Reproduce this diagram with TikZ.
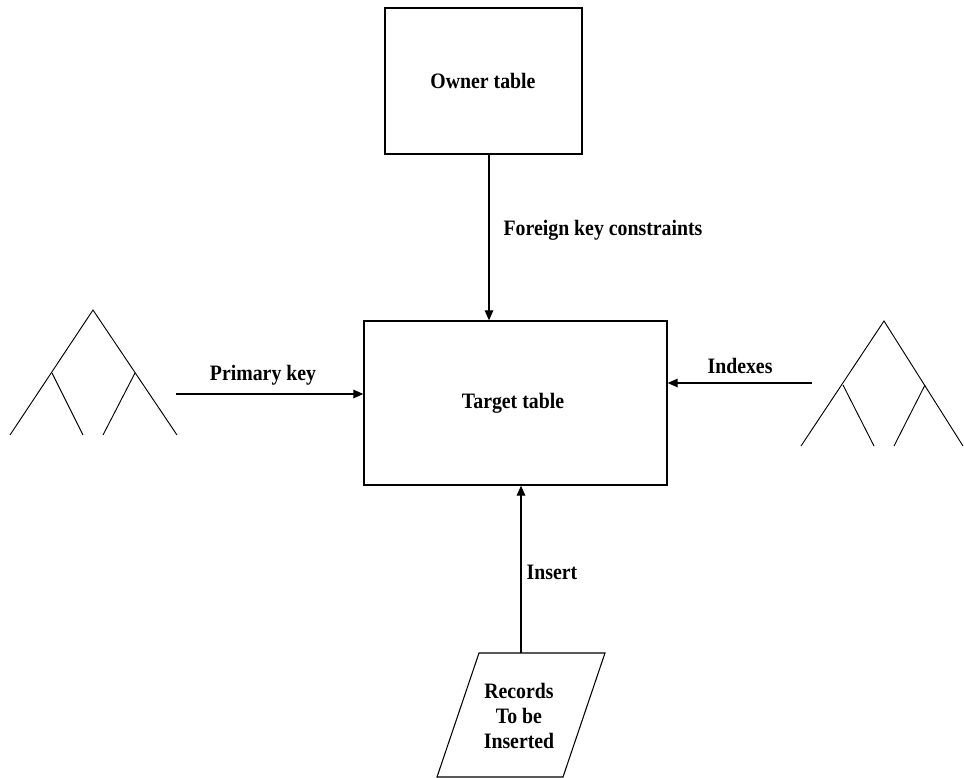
\documentclass[tikz,border=0pt]{standalone}
\usepackage{fontspec}
\setmainfont{Liberation Serif}[FakeStretch=0.9]
\usetikzlibrary{arrows.meta}
\begin{document}
\begin{tikzpicture}[x=0.75pt,y=-0.75pt,
  lbl/.style={font=\fontsize{16.5}{19}\selectfont\bfseries, inner sep=0pt},
  tablebox/.style={draw, line width=1.1pt, inner sep=0pt},
  link/.style={line width=0.9pt, -{Triangle[length=7.5pt,width=6.5pt]}},
  tree/.style={line width=0.7pt}]
\useasboundingbox (0,0) rectangle (964,778);

% tables
\node[tablebox, minimum width=147.75pt, minimum height=109.5pt] (owner) at (483.5,81) {};
\node[lbl] at (483,81) {Owner table};
\node[tablebox, minimum width=227.25pt, minimum height=123pt] (target) at (515.5,403) {};
\node[lbl] at (513,403) {Target table};

% records to be inserted
\draw[line width=0.8pt] (479,653) -- (605,653) -- (563,777) -- (437,777) -- cycle;
\coordinate (rectop) at (521,653);
\node[lbl, align=center, font=\fontsize{16.5}{19}\selectfont\bfseries] (records) at (519,716) {Records\\To be\\Inserted};

% left index tree
\draw[tree] (10,435) -- (93,310) -- (177,435);
\draw[tree] (52,373) -- (83,435);
\draw[tree] (135,373) -- (103,435);
\coordinate (ltree) at (176,394);

% right index tree
\draw[tree] (801,446) -- (884,321) -- (963,446);
\draw[tree] (843,385) -- (874,446);
\draw[tree] (925,385) -- (894,446);
\coordinate (rtree) at (812,383);

% connectors
\draw[link] (owner.south -| 489,0) -- (489,0 |- target.north);
\node[lbl] at (603,230) {Foreign key constraints};
\draw[link] (ltree) -- (ltree -| target.west);
\node[lbl] at (263,375) {Primary key};
\draw[link] (rtree) -- (rtree -| target.east);
\node[lbl] at (740,366) {Indexes};
\draw[link] (rectop) -- (rectop |- target.south);
\node[lbl] at (552,572) {Insert};
\end{tikzpicture}
\end{document}
